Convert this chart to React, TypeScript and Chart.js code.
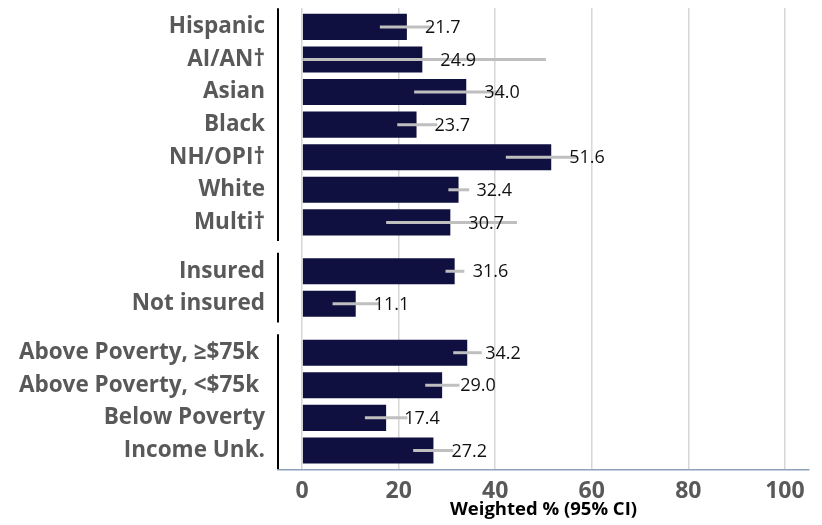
import React, { useEffect, useRef } from 'react';
import { Chart, registerables } from 'chart.js';

Chart.register(...registerables);

const categories = [
  'Hispanic',
  'AI/AN†',
  'Asian',
  'Black',
  'NH/OPI†',
  'White',
  'Multi†',
  'Insured',
  'Not insured',
  'Above Poverty, ≥$75k ',
  'Above Poverty, <$75k ',
  'Below Poverty',
  'Income Unk.',
];
const groupSizes = [7, 2, 4];
const values = [21.7, 24.9, 34.0, 23.7, 51.6, 32.4, 30.7, 31.6, 11.1, 34.2, 29.0, 17.4, 27.2];
const ciLow = [16.1, 0.2, 23.2, 19.7, 42.2, 30.3, 17.4, 29.7, 6.3, 31.3, 25.5, 13.0, 23.0];
const ciHigh = [26.8, 50.5, 41.5, 28.0, 57.0, 34.6, 44.5, 33.6, 16.0, 37.2, 32.6, 21.8, 31.3];
const xTicks = [0, 20, 40, 60, 80, 100];
const xTitle = 'Weighted % (95% CI)';

const positions: number[] = [];
const groupRanges: [number, number][] = [];
{
  let p = 0;
  groupSizes.forEach((n) => {
    const start = p;
    for (let i = 0; i < n; i++) {
      positions.push(p);
      p += 1;
    }
    groupRanges.push([start, p - 1]);
    p += 0.5;
  });
}

const FONT = "'Open Sans', sans-serif";

const errorBarPlugin = {
  id: 'errorBars',
  afterDatasetsDraw(chart: any) {
    const { ctx, scales } = chart;
    const xs = scales.x;
    const ys = scales.y;
    ctx.save();
    ctx.strokeStyle = '#bfbfbf';
    ctx.lineWidth = 3;
    positions.forEach((p, i) => {
      const y = ys.getPixelForValue(p);
      ctx.beginPath();
      ctx.moveTo(xs.getPixelForValue(ciLow[i]), y);
      ctx.lineTo(xs.getPixelForValue(ciHigh[i]), y);
      ctx.stroke();
    });
    ctx.fillStyle = '#111111';
    ctx.font = `18px ${FONT}`;
    ctx.textAlign = 'left';
    ctx.textBaseline = 'middle';
    positions.forEach((p, i) => {
      const y = ys.getPixelForValue(p);
      const x = xs.getPixelForValue(values[i]) + 18;
      ctx.fillText(values[i].toFixed(1), x, y + 1);
    });
    ctx.strokeStyle = '#000000';
    ctx.lineWidth = 2;
    const left = chart.chartArea.left;
    groupRanges.forEach(([a, b]) => {
      const y0 = Math.max(chart.chartArea.top, ys.getPixelForValue(a - 0.57));
      const y1 = Math.min(chart.chartArea.bottom, ys.getPixelForValue(b + 0.57));
      ctx.beginPath();
      ctx.moveTo(left, y0);
      ctx.lineTo(left, y1);
      ctx.stroke();
    });
    ctx.restore();
  },
};

export default function App() {
  const ref = useRef<HTMLCanvasElement | null>(null);
  useEffect(() => {
    if (!ref.current) return;
    const chart = new Chart(ref.current, {
      type: 'bar',
      data: {
        datasets: [
          {
            data: values.map((v, i) => ({ x: v, y: positions[i] })) as any,
            backgroundColor: '#0f0f40',
            borderWidth: 0,
            barPercentage: 0.8,
            categoryPercentage: 1,
          },
        ],
      },
      options: {
        indexAxis: 'y',
        animation: false,
        responsive: true,
        maintainAspectRatio: false,
        layout: { padding: { left: 0, top: 8, right: 13, bottom: 0 } },
        plugins: { legend: { display: false }, tooltip: { enabled: false } },
        scales: {
          x: {
            type: 'linear',
            min: -5,
            max: 105,
            afterBuildTicks: (scale: any) => {
              scale.ticks = xTicks.map((v) => ({ value: v }));
            },
            afterFit: (scale: any) => {
              scale.height = 55;
            },
            grid: { color: '#d6d6d6', lineWidth: 1.5, drawTicks: false },
            border: { display: true, color: '#8ea0bd', width: 1.5 },
            ticks: {
              padding: 8,
              color: '#595959',
              font: { family: FONT, size: 23, weight: 'bold' },
              maxRotation: 0,
            },
            title: {
              display: true,
              text: xTitle,
              color: '#000000',
              font: { family: FONT, size: 18.5, weight: 'bold' },
              padding: { top: 0, bottom: 4 },
            },
          },
          y: {
            type: 'linear',
            reverse: true,
            offset: false,
            min: -0.58,
            max: positions[positions.length - 1] + 0.6,
            afterBuildTicks: (scale: any) => {
              scale.ticks = positions.map((v) => ({ value: v }));
            },
            afterFit: (scale: any) => {
              scale.width = 278;
              scale.paddingTop = 0;
              scale.paddingBottom = 0;
            },
            grid: { display: false, drawTicks: false },
            border: { display: false },
            ticks: {
              autoSkip: false,
              padding: 13,
              color: '#595959',
              font: { family: FONT, size: 22.5, weight: 'bold' },
              callback: (_v: any, idx: number) => categories[idx],
            },
          },
        },
      },
      plugins: [errorBarPlugin],
    });
    return () => chart.destroy();
  }, []);
  return (
    <div style={{ position: 'fixed', left: 0, top: 0, width: 822, height: 525, background: '#ffffff' }}>
      <canvas ref={ref} />
    </div>
  );
}
